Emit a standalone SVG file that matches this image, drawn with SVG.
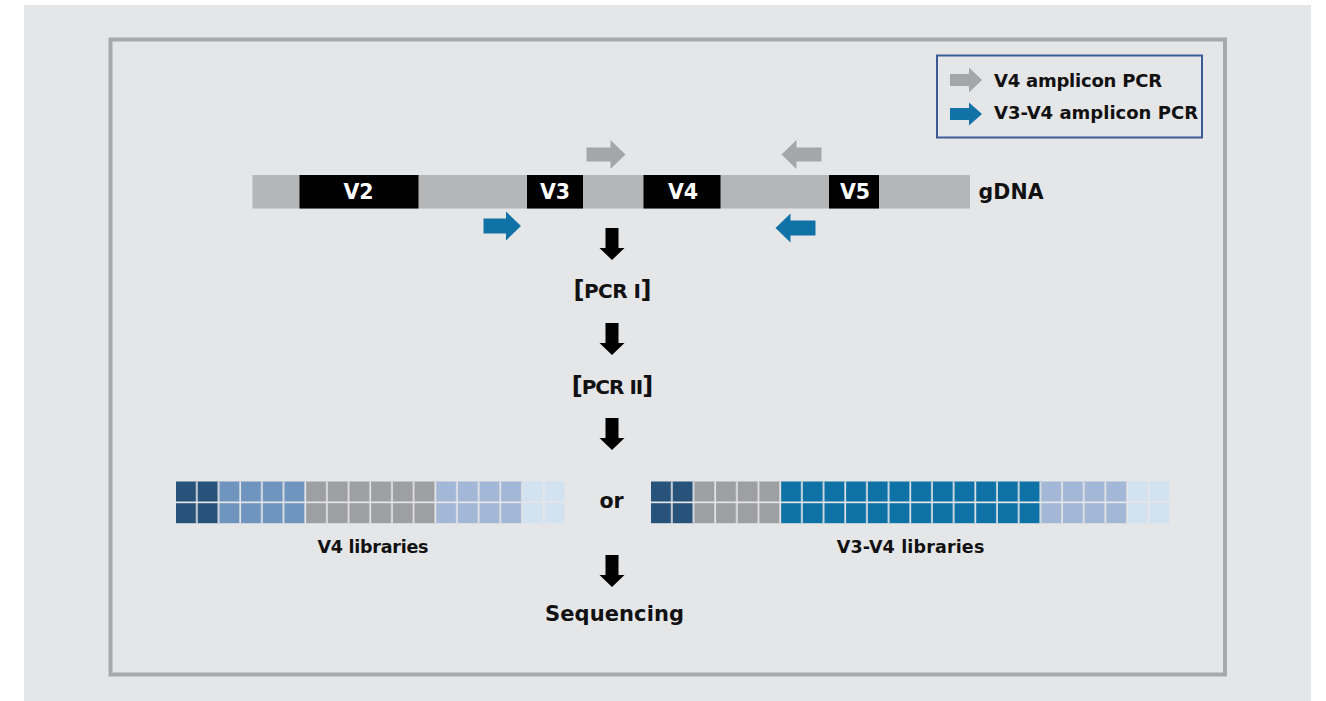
<svg xmlns="http://www.w3.org/2000/svg" width="1326" height="701" viewBox="0 0 1326 701">
<style>
  .t { font-family: "DejaVu Sans", "Liberation Sans", sans-serif; font-weight: bold; fill: #111; }
  .w { fill: #fff; }
  .br { font-size: 24px; }
  .seg { fill: #000; }
  .dna { fill: #b5b6b8; }
  .ga { fill: #a5a6a8; }
  .ba { fill: #1172a8; }
  .da { fill: #000; }
  .c1 { fill: #27527a; }
  .c2 { fill: #6f95bf; }
  .c3 { fill: #9e9fa2; }
  .c4 { fill: #a3b7d6; }
  .c5 { fill: #d2e2f1; }
  .c6 { fill: #0f72a6; }
</style>
<defs>
  <path id="down" d="M-6.5,0 H6.5 V20 H12.5 L0,32 L-12.5,20 H-6.5 Z"/>
  <pattern id="gapL" patternUnits="userSpaceOnUse" x="176" y="0" width="21.68" height="700">
    <rect x="20" y="0" width="1.68" height="700" fill="#e5e6e8"/>
  </pattern>
  <pattern id="gapR" patternUnits="userSpaceOnUse" x="651" y="0" width="21.68" height="700">
    <rect x="20" y="0" width="1.68" height="700" fill="#e5e6e8"/>
  </pattern>
</defs>

<rect x="0" y="0" width="1326" height="701" fill="#ffffff"/>
<rect x="24" y="5" width="1287" height="696" fill="#e5e6e8"/>
<rect x="110.5" y="39.5" width="1114.5" height="635" fill="none" stroke="#a8a9ac" stroke-width="4"/>

<g id="legend">
  <rect x="937" y="55.5" width="265" height="82" fill="none" stroke="#3c5b94" stroke-width="2"/>
  <path class="ga" d="M950,74 H969 V67.5 L982,80 L969,92.5 V86 H950 Z"/>
  <text class="t" x="994" y="86.5" font-size="18" textLength="168">V4 amplicon PCR</text>
  <path class="ba" d="M950,108 H969 V102.5 L982,114 L969,125.5 V120 H950 Z"/>
  <text class="t" x="994" y="118.5" font-size="18" textLength="204">V3-V4 amplicon PCR</text>
</g>

<g id="gDNA">
  <rect class="dna" x="252.5" y="175" width="717.5" height="33.5"/>
  <rect class="seg" x="299.5" y="175" width="119" height="33.5"/>
  <rect class="seg" x="527" y="175" width="56" height="33.5"/>
  <rect class="seg" x="643.5" y="175" width="77" height="33.5"/>
  <rect class="seg" x="829" y="175" width="50" height="33.5"/>
  <text class="t w" x="358.5" y="199" font-size="20.5" text-anchor="middle">V2</text>
  <text class="t w" x="555" y="199" font-size="20.5" text-anchor="middle">V3</text>
  <text class="t w" x="683" y="199" font-size="20.5" text-anchor="middle">V4</text>
  <text class="t w" x="855" y="199" font-size="20.5" text-anchor="middle">V5</text>
  <text class="t" x="978.5" y="199" font-size="20.5" textLength="65">gDNA</text>
</g>

<g id="primers">
  <path class="ga" d="M586.5,147.5 H610.5 V140 L625.5,154.5 L610.5,169 V161.5 H586.5 Z"/>
  <path class="ga" d="M821.5,147.5 H796.5 V140 L781.5,154.5 L796.5,169 V161.5 H821.5 Z"/>
  <path class="ba" d="M483.5,218.5 H506 V211.5 L521,226 L506,240.5 V233.5 H483.5 Z"/>
  <path class="ba" d="M815.5,220.5 H790.5 V213.5 L775.5,228 L790.5,242.5 V235.5 H815.5 Z"/>
</g>

<g id="connectors">
  <use href="#down" class="da" x="612" y="228"/>
  <use href="#down" class="da" x="612" y="323"/>
  <use href="#down" class="da" x="612" y="418"/>
  <use href="#down" class="da" x="612" y="555"/>
</g>

<g id="pcr1">
  <text class="t" x="612.5" y="297.5" font-size="20" text-anchor="middle" textLength="78"><tspan class="br">[</tspan>PCR I<tspan class="br">]</tspan></text>
</g>
<g id="pcr2">
  <text class="t" x="612.5" y="393.5" font-size="20" text-anchor="middle" textLength="81.5"><tspan class="br">[</tspan>PCR II<tspan class="br">]</tspan></text>
</g>

<g id="v4lib">
  <rect class="c1" x="176" y="481.5" width="43.36" height="41.7"/>
  <rect class="c2" x="219.36" y="481.5" width="86.72" height="41.7"/>
  <rect class="c3" x="306.08" y="481.5" width="130.08" height="41.7"/>
  <rect class="c4" x="436.16" y="481.5" width="86.72" height="41.7"/>
  <rect class="c5" x="522.88" y="481.5" width="41.68" height="41.7"/>
  <rect x="176" y="481.5" width="388.56" height="41.7" fill="url(#gapL)"/>
  <rect x="176" y="501.5" width="388.56" height="1.7" fill="#e5e6e8"/>
  <text class="t" x="373" y="553.3" font-size="17.5" text-anchor="middle" textLength="111">V4 libraries</text>
</g>

<g id="or">
  <text class="t" x="611.5" y="508" font-size="20.5" text-anchor="middle">or</text>
</g>

<g id="v3v4lib">
  <rect class="c1" x="651" y="481.5" width="43.36" height="41.7"/>
  <rect class="c3" x="694.36" y="481.5" width="86.72" height="41.7"/>
  <rect class="c6" x="781.08" y="481.5" width="260.16" height="41.7"/>
  <rect class="c4" x="1041.24" y="481.5" width="86.72" height="41.7"/>
  <rect class="c5" x="1127.96" y="481.5" width="41.68" height="41.7"/>
  <rect x="651" y="481.5" width="518.64" height="41.7" fill="url(#gapR)"/>
  <rect x="651" y="501.5" width="518.64" height="1.7" fill="#e5e6e8"/>
  <text class="t" x="910.5" y="553.3" font-size="17.5" text-anchor="middle" textLength="147.6">V3-V4 libraries</text>
</g>

<g id="sequencing">
  <text class="t" x="614.5" y="621" font-size="21" text-anchor="middle" textLength="139">Sequencing</text>
</g>
</svg>
